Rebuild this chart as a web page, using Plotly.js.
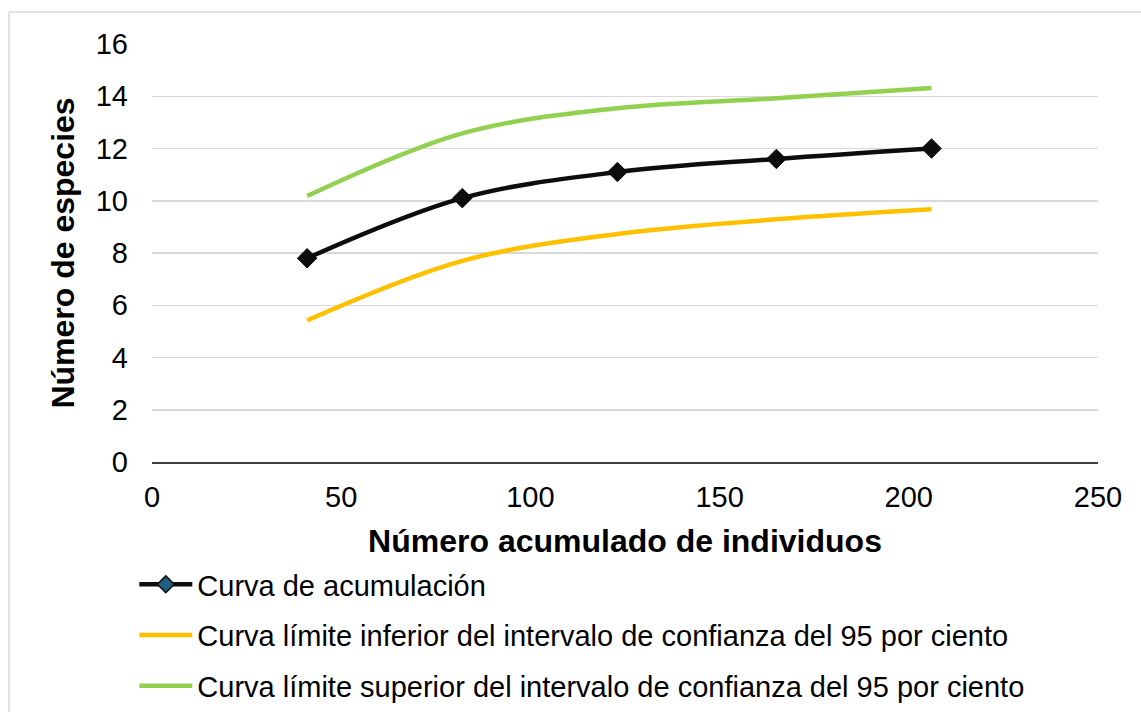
<!DOCTYPE html>
<html>
<head>
<meta charset="utf-8">
<script src="https://cdn.plot.ly/plotly-3.0.1.min.js"></script>
<style>html,body{margin:0;padding:0;background:#fff;}#chart{width:1141px;height:712px;}</style>
</head>
<body>
<div id="chart"></div>
<script>
// Data
var individuos = [41, 82, 123, 165, 206];
var acumulacion = [7.8, 10.1, 11.1, 11.6, 12.0];
var limiteInferior = [5.42, 7.7, 8.73, 9.29, 9.67];
var limiteSuperior = [10.18, 12.58, 13.54, 13.92, 14.32];
var nombres = [
  'Curva de acumulación',
  'Curva límite inferior del intervalo de confianza del 95 por ciento',
  'Curva límite superior del intervalo de confianza del 95 por ciento'
];
var xTicks = [0, 50, 100, 150, 200, 250];
var yTicks = [0, 2, 4, 6, 8, 10, 12, 14, 16];

var font = 'Liberation Sans, Arial, sans-serif';
var traces = [
  {x: individuos, y: limiteSuperior, mode: 'lines', name: nombres[2], showlegend: false,
   line: {color: '#92D050', width: 4.5, shape: 'spline', smoothing: 1}, hoverinfo: 'skip'},
  {x: individuos, y: limiteInferior, mode: 'lines', name: nombres[1], showlegend: false,
   line: {color: '#FFC000', width: 4.5, shape: 'spline', smoothing: 1}, hoverinfo: 'skip'},
  {x: individuos, y: acumulacion, mode: 'lines+markers', name: nombres[0], showlegend: false,
   line: {color: '#0D0D0D', width: 4.5, shape: 'spline', smoothing: 1},
   marker: {symbol: 'diamond', size: 15, color: '#0D0D0D', line: {color: '#0D0D0D', width: 1}}},
  // legend entries
  {x: [null], y: [null], mode: 'lines+markers', name: nombres[0], legendgroup: 'a',
   line: {color: '#0D0D0D', width: 4.5}, marker: {symbol: 'diamond', size: 13, color: '#1F5F80', line: {color: '#0D0D0D', width: 1.5}}},
  {x: [null], y: [null], mode: 'lines', name: nombres[1], legendgroup: 'b',
   line: {color: '#FFC000', width: 4.5}},
  {x: [null], y: [null], mode: 'lines', name: nombres[2], legendgroup: 'c',
   line: {color: '#92D050', width: 4.5}}
];

var layout = {
  width: 1141, height: 712,
  margin: {l: 152, r: 43, t: 44, b: 250, autoexpand: false},
  paper_bgcolor: '#ffffff', plot_bgcolor: '#ffffff',
  font: {family: font, color: '#000000', size: 29},
  showlegend: true,
  legend: {
    x: -0.0187, xanchor: 'left', y: -0.232, yanchor: 'top',
    traceorder: 'grouped', tracegroupgap: 10, itemwidth: 53,
    font: {family: font, size: 29, color: '#000000'}, bgcolor: 'rgba(0,0,0,0)'
  },
  xaxis: {
    range: [0, 250], tickvals: xTicks, ticktext: xTicks.map(String),
    showgrid: false, zeroline: false, showline: true, linecolor: '#404040', linewidth: 1.5,
    ticks: '', ticklabelstandoff: 9, automargin: false,
    tickfont: {family: font, size: 29, color: '#000000'},
    title: {text: 'Número acumulado de individuos', standoff: 17,
            font: {family: font, size: 32, color: '#000000', weight: 'bold'}}
  },
  yaxis: {
    range: [0, 16], tickvals: yTicks, ticktext: yTicks.map(String),
    showgrid: true, gridcolor: '#D9D9D9', gridwidth: 1.5, zeroline: false, showline: false,
    ticks: '', ticklabelstandoff: 23, automargin: false,
    tickfont: {family: font, size: 29, color: '#000000'},
    title: {text: 'Número de especies', standoff: 11,
            font: {family: font, size: 32, color: '#000000', weight: 'bold'}}
  },
  shapes: [
    {type: 'line', xref: 'paper', yref: 'paper', x0: -0.1512, x1: -0.1512, y0: 1.0766, y1: -0.7,
     line: {color: '#D9D9D9', width: 1.5}},
    {type: 'line', xref: 'paper', yref: 'paper', x0: -0.1512, x1: 1.2, y0: 1.0766, y1: 1.0766,
     line: {color: '#D9D9D9', width: 1.5}}
  ]
};

Plotly.newPlot('chart', traces, layout, {displayModeBar: false, staticPlot: true});
</script>
</body>
</html>
